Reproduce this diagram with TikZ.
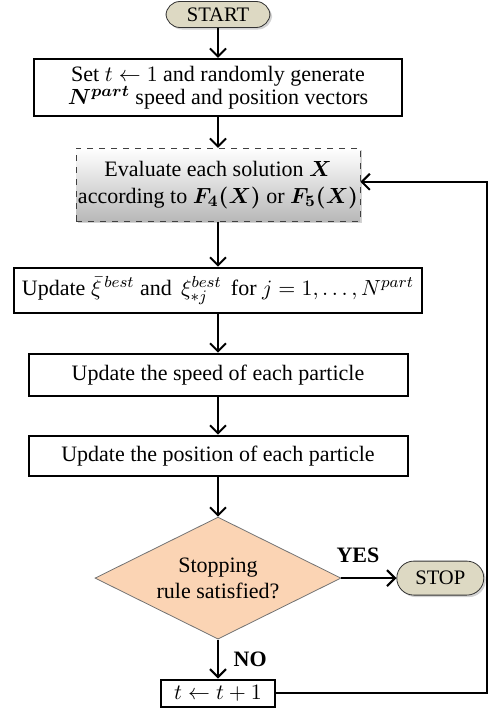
\documentclass[tikz,border=0pt]{standalone}
\usepackage{amsmath,amssymb}
\usepackage{fontspec}
\setmainfont{Liberation Serif}
\usetikzlibrary{shapes.geometric, arrows.meta, positioning, shadows}

\definecolor{termfill}{HTML}{DDD9C3}
\definecolor{decfill}{HTML}{FBD4B4}

\begin{document}
\begin{tikzpicture}[
    x=1pt, y=1pt,
    node distance=15pt,
    terminal/.style={rectangle, draw=black!80, fill=termfill, rounded corners=7pt, minimum width=52pt, minimum height=13pt, inner sep=0pt, font=\fontsize{10.3}{12}\selectfont, drop shadow={opacity=0.35, shadow xshift=1pt, shadow yshift=-1pt}},
    procbox/.style={rectangle, draw, line width=1pt, fill=white, inner sep=0pt, align=center, font=\fontsize{11}{11.5}\selectfont},
    evalbox/.style={rectangle, draw=black!75, dashed, top color=white, bottom color=black!28, inner sep=0pt, align=center, font=\fontsize{11}{13.5}\selectfont, drop shadow={opacity=0.35, shadow xshift=1pt, shadow yshift=-1pt}},
    decision/.style={diamond, draw=black!55, fill=decfill, aspect=2, minimum width=123pt, minimum height=61pt, inner sep=0pt, align=center, font=\fontsize{11}{13}\selectfont},
    answer/.style={font=\fontsize{11}{12}\selectfont\bfseries},
    arrow/.style={-{Straight Barb[length=4pt, width=8pt]}, line width=1pt},
]
\useasboundingbox (0,0) rectangle (244.5,-356);

\node[terminal] (start) at (109,-7.25) {START};
\node[procbox, below=15pt of start, minimum width=184pt, minimum height=28.5pt] (init) {Set $t \leftarrow 1$ and randomly generate\\ $\boldsymbol{N^{part}}$ speed and position vectors};
\node[evalbox, below=15.5pt of init, minimum width=142pt, minimum height=36.5pt] (eval) {Evaluate each solution $\boldsymbol{X}$\\ according to $\boldsymbol{F_4(X)}$ or $\boldsymbol{F_5(X)}$};
\node[procbox, below=22.5pt of eval, minimum width=204pt, minimum height=22.5pt] (upbest) {Update $\bar{\xi}^{\,best}$ and\, $\xi^{best}_{*j}$\, for $j = 1, \dots, N^{part}$};
\node[procbox, below=19.5pt of upbest, minimum width=189.5pt, minimum height=21pt] (upspeed) {Update the speed of each particle};
\node[procbox, below=19pt of upspeed, minimum width=189.5pt, minimum height=20pt] (uppos) {Update the position of each particle};
\node[decision, below=20pt of uppos] (stoprule) {Stopping\\ rule satisfied?};
\node[terminal, minimum width=43.5pt, minimum height=17pt, rounded corners=8.5pt, right=27.5pt of stoprule] (stop) {STOP};
\node[procbox, below=19.5pt of stoprule, minimum width=57pt, minimum height=13.5pt] (tinc) {$t \leftarrow t + 1$};
\coordinate (fb) at (243.5,0);

\draw[arrow] (start) -- (init);
\draw[arrow] (init) -- (eval);
\draw[arrow] (eval) -- (upbest);
\draw[arrow] (upbest) -- (upspeed);
\draw[arrow] (upspeed) -- (uppos);
\draw[arrow] (uppos) -- (stoprule);
\draw[arrow] (stoprule) -- node[answer, above=4pt, pos=0.3] {YES} (stop);
\draw[arrow] (stoprule) -- node[answer, right=4pt] {NO} (tinc);
\draw[arrow] (tinc.east) -- (tinc.east -| fb) |- ([yshift=1.5pt]eval.east);
\end{tikzpicture}
\end{document}
